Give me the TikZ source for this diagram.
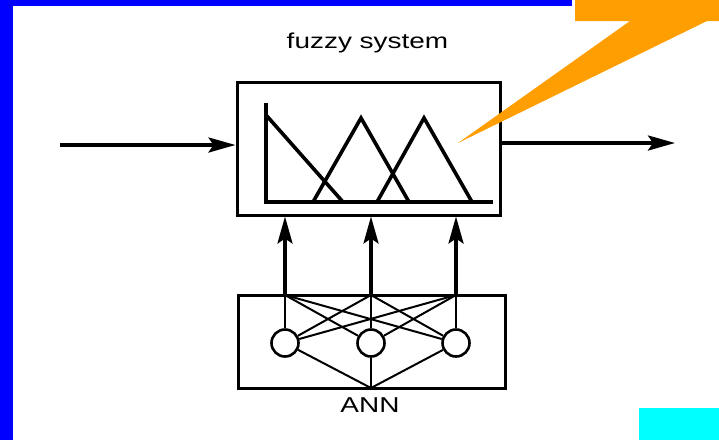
\documentclass[tikz,border=0pt]{standalone}
\usepackage{fontspec}
\newfontfamily\labelfont[FakeStretch=1.3]{Liberation Sans}
\usetikzlibrary{arrows.meta,positioning}
\definecolor{barblue}{RGB}{0,0,255}
\definecolor{callorange}{RGB}{255,158,0}
\definecolor{tagcyan}{RGB}{0,255,255}
\tikzset{
  box/.style={draw, rectangle, line width=3pt, inner sep=0pt},
  neuron/.style={draw, circle, line width=2.6pt, minimum size=27pt, inner sep=0pt},
  link/.style={line width=2pt},
  mf/.style={line width=3.6pt, line join=miter},
  signal/.style={-{Stealth[length=27pt, width=15pt, inset=5pt]}, line width=3.4pt},
  caption/.style={font=\labelfont\fontsize{21.5}{24}\selectfont, anchor=base}
}

\begin{document}
\begin{tikzpicture}[x=1pt, y=-1pt]
        \useasboundingbox (0,0) rectangle (719,440);
        % frame decoration
        \fill[barblue] (0,0) rectangle (572,6);
        \fill[barblue] (0,0) rectangle (13,440);
        \fill[tagcyan] (639,408) rectangle (719,440);

        % boxes
        \node[box, minimum width=263pt, minimum height=133pt] (fuzzy) at (368.5,148.5) {};
        \node[box, minimum width=267pt, minimum height=93pt] (ann) at (371.5,341.5) {};
        \node[caption] (fuzzytitle) at (367.5,48) {fuzzy system};
        \node[caption] (anntitle) at (370,412) {ANN};

        % membership functions
        \draw[mf] (266,103) -- (266,202) -- (493,202);
        \draw[mf] (266,115) -- (343,202);
        \draw[mf] (313,202) -- (361,118) -- (409,202);
        \draw[mf] (377,202) -- (424,118) -- (472,202);

        % input and output
        \coordinate (in) at (60,145);
        \coordinate (out) at (675,143);
        \draw[signal] (in) -- (fuzzy.west |- in);
        \draw[signal] (fuzzy.east |- out) -- (out);

        % network
        \foreach \i/\x in {1/285,2/371,3/456} {
          \node[neuron] (n\i) at (\x,343) {};
          \coordinate (t\i) at (\x,295);
          \draw[signal] (t\i) -- (t\i |- fuzzy.south);
        }
        \coordinate (b) at (371,388);
        \foreach \i in {1,2,3} {
          \foreach \j in {1,2,3} {
            \draw[link] (n\i) -- (t\j);
          }
          \draw[link] (n\i) -- (b);
        }

        % callout
        \fill[callorange] (575,0) -- (719,0) -- (719,21) -- (707,21) -- (458,143) -- (630,21) -- (575,21) -- cycle;
\end{tikzpicture}
\end{document}
